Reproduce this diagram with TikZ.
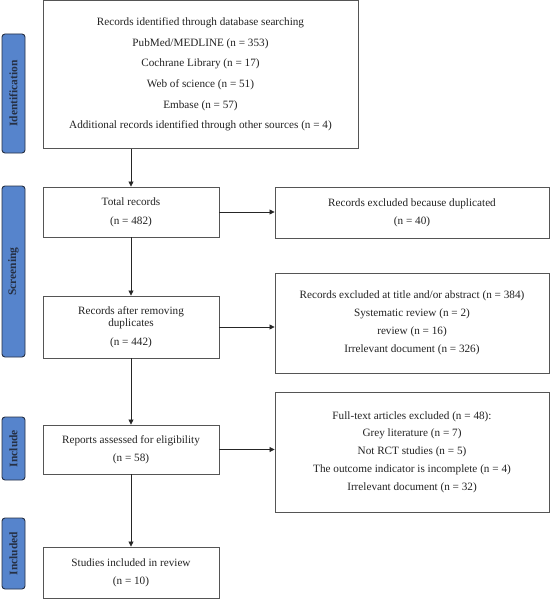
\documentclass[tikz,border=0pt]{standalone}
\usepackage{fontspec}
\setmainfont{Liberation Serif}
\usetikzlibrary{arrows.meta}
\definecolor{sidefill}{RGB}{86,132,204}
\definecolor{sidedraw}{RGB}{38,48,68}
\definecolor{boxline}{RGB}{85,85,85}
\definecolor{txt}{RGB}{35,35,35}
\begin{document}
\begin{tikzpicture}[x=1pt,y=-1pt,
  box/.style={draw=boxline, line width=0.9pt, fill=white, align=center, inner sep=0pt,
    font=\fontsize{11.2}{13.5}\selectfont, text=txt},
  side/.style={draw=sidedraw, line width=0.9pt, fill=sidefill, rounded corners=3pt,
    inner sep=0pt, rotate=90, font=\fontsize{11.5}{13}\selectfont\bfseries, text=sidedraw},
  arr/.style={draw=black!85, line width=0.8pt, -{Triangle[width=5pt,length=5pt]}}]
\useasboundingbox (0,0) rectangle (550,599);
% side labels
\node[side, minimum width=119pt, minimum height=23pt] (sid) at (13.5,93.5) {Identification};
\node[side, minimum width=171pt, minimum height=23pt] (sscr) at (13.5,271.5) {Screening};
\node[side, minimum width=63pt, minimum height=23pt] (sinc) at (13.5,448.5) {Include};
\node[side, minimum width=71pt, minimum height=23pt] (sincd) at (13.5,553.5) {Included};
% left column
\node[box, minimum width=315pt, minimum height=148pt] (top) at (200.5,74.5)
 {Records identified through database searching\\[7.2pt]
  PubMed/MEDLINE (n = 353)\\[7.2pt]
  Cochrane Library (n = 17)\\[7.2pt]
  Web of science (n = 51)\\[7.2pt]
  Embase (n = 57)\\[7.2pt]
  Additional records identified through other sources (n = 4)};
\node[box, minimum width=176pt, minimum height=50pt] (tot) at (131,212)
 {Total records\\[5.2pt](n = 482)};
\node[box, minimum width=176pt, minimum height=62pt] (rem) at (131,327)
 {Records after removing\\[-1.2pt]duplicates\\[5.5pt](n = 442)};
\node[box, minimum width=176pt, minimum height=49pt] (rep) at (131,449.5)
 {Reports assessed for eligibility\\[4.2pt](n = 58)};
\node[box, minimum width=176pt, minimum height=51pt] (stu) at (131,572.5)
 {Studies included in review\\[4.5pt](n = 10)};
% right column
\node[box, minimum width=274pt, minimum height=51pt] (dup) at (412,212.5)
 {Records excluded because duplicated\\[4.8pt](n = 40)};
\node[box, minimum width=274pt, minimum height=100pt] (ttl) at (412,323)
 {Records excluded at title and/or abstract (n = 384)\\[4.7pt]
  Systematic review (n = 2)\\[4.7pt]
  review (n = 16)\\[4.7pt]
  Irrelevant document (n = 326)};
\node[box, minimum width=274pt, minimum height=120pt] (full) at (412,452)
 {Full-text articles excluded (n = 48):\\[4.2pt]
  Grey literature (n = 7)\\[4.2pt]
  Not RCT studies (n = 5)\\[4.2pt]
  The outcome indicator is incomplete (n = 4)\\[4.2pt]
  Irrelevant document (n = 32)};
% arrows
\draw[arr] (tot.north |- top.south) -- (tot.north);
\draw[arr] (tot.south) -- (rem.north);
\draw[arr] (rem.south) -- (rep.north);
\draw[arr] (rep.south) -- (stu.north);
\draw[arr] (tot.east) -- (tot.east -| dup.west);
\draw[arr] (rem.east) -- (rem.east -| ttl.west);
\draw[arr] (rep.east) -- (rep.east -| full.west);
\end{tikzpicture}
\end{document}
